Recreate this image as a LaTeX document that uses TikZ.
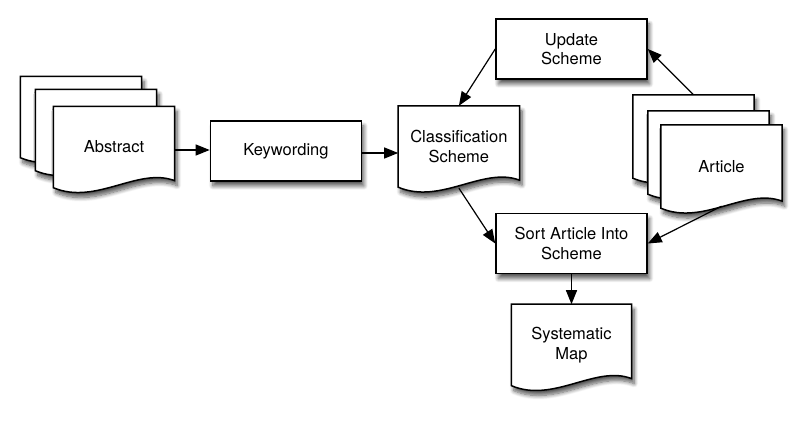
\documentclass[tikz,border=0pt]{standalone}
\usepackage{fontspec}
\setmainfont{TeX Gyre Heros}
\usepackage{tikz}
\usetikzlibrary{calc, arrows.meta, positioning, backgrounds, shadows, shadows.blur}

% Document outline drawn round a named node
\newcommand{\docsheet}[1]{%
    \path [sheet] (#1.north west) -- (#1.north east) -- ([yshift=7pt]#1.south east)
        .. controls ($(#1.south east)!0.3!(#1.south west)+(0,21pt)$)
        and ($(#1.south east)!0.65!(#1.south west)+(0,-18pt)$) .. (#1.south west) -- cycle;%
}

\begin{document}
\begin{tikzpicture}[
    x=1pt, y=1pt,
    >=Triangle,
    shade/.style={blur shadow={shadow xshift=2.5pt, shadow yshift=-5pt, shadow blur radius=4pt, shadow blur steps=8, shadow opacity=65}},
    block/.style={rectangle, draw=black, fill=white, line width=1.5pt, align=center, inner sep=0pt, minimum width=151pt, minimum height=60pt, font=\fontsize{16.5}{19.5}\selectfont, shade},
    doc/.style={rectangle, inner sep=0pt, align=center, minimum width=121pt, minimum height=81pt, font=\fontsize{16.5}{19.5}\selectfont},
    sheet/.style={draw=black, fill=white, line width=1.5pt, shade},
    line/.style={draw=black, line width=1.2pt, -{Triangle[length=14pt, width=11pt]}}
]
    \useasboundingbox (0,0) rectangle (807,423);

    % Left column
    \node [doc] (abstract) at (114,276) {Abstract};
    \node [doc] (abstractmid) at ([shift={(-18,17)}]abstract.center) {};
    \node [doc] (abstractback) at ([shift={(-33,30)}]abstract.center) {};

    \node [block, right=35pt of abstract, yshift=-4pt] (keywording) {Keywording};
    \node [doc, right=36pt of keywording, yshift=4.5pt] (classification) {Classification\\Scheme};

    % Middle column
    \node [block] (update) at (571.5,374) {Update\\Scheme};
    \node [block, below=133pt of update] (sortarticle) {Sort Article Into\\Scheme};
    \node [doc, minimum width=120pt, below=30pt of sortarticle] (sysmap) {Systematic\\Map};

    % Right column
    \node [doc, minimum height=83pt] (article) at (721.5,256.5) {Article};
    \node [doc, minimum height=83pt] (articlemid) at ([shift={(-13,14)}]article.center) {};
    \node [doc, minimum height=83pt] (articleback) at ([shift={(-28,30)}]article.center) {};

    \begin{scope}[on background layer]
        \docsheet{abstractback}
        \docsheet{abstractmid}
        \docsheet{abstract}
        \docsheet{classification}
        \docsheet{sysmap}
        \docsheet{articleback}
        \docsheet{articlemid}
        \docsheet{article}
    \end{scope}

    % Connections
    \draw [line] (abstract.east |- 0,273) -- (keywording.west |- 0,273);
    \draw [line] (keywording.east |- 0,270) -- (classification.west |- 0,270);
    \draw [line] (update.west) -- (classification.north);
    \draw [line] (articleback.north) -- (update.east);
    \draw [line] ([yshift=-1pt]classification.south) -- (sortarticle.west);
    \draw [line] ([yshift=2pt]article.south) -- (sortarticle.east);
    \draw [line] (sortarticle.south) -- (sysmap.north);

\end{tikzpicture}
\end{document}
